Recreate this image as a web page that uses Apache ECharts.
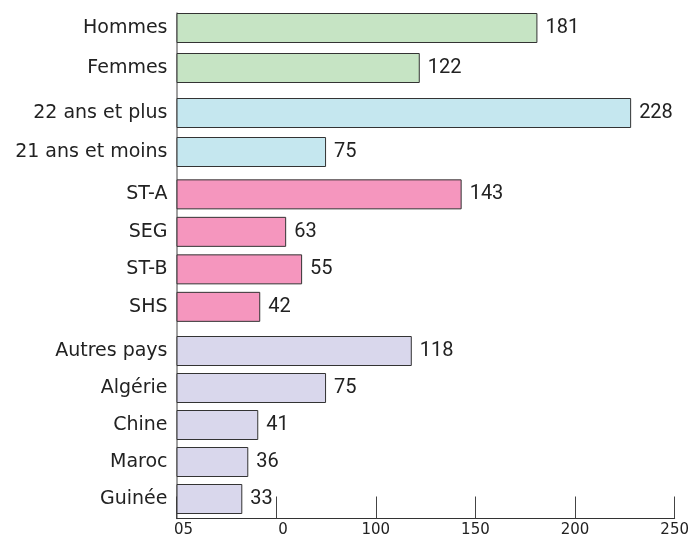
<!DOCTYPE html>
<html><head><meta charset="utf-8">
<script src="https://cdn.jsdelivr.net/npm/echarts@6/dist/echarts.min.js"></script>
<style>html,body{margin:0;padding:0;background:#fff}#c{width:692px;height:538px}</style>
</head><body><div id="c"></div>
<script>
const sexeCats = ["Hommes", "Femmes"];
const sexeVals = [181, 122];
const ageCats = ["22 ans et plus", "21 ans et moins"];
const ageVals = [228, 75];
const serieCats = ["ST-A", "SEG", "ST-B", "SHS"];
// bar lengths as drawn in the reference (SEG/ST-B bars are drawn swapped relative to their printed labels)
const serieVals = [143, 55, 63, 42];
const serieValLabels = ["143", "63", "55", "42"];
const paysCats = ["Autres pays", "Algérie", "Chine", "Maroc", "Guinée"];
const paysVals = [118, 75, 41, 36, 33];
const xTickLabels = ["05", "0", "100", "150", "200", "250"];

const CAT_FONT = "DejaVu Sans";
const NUM_FONT = "Roboto";
const groups = [
  {cats: sexeCats, vals: sexeVals, labels: null, color: "#c6e4c4", top: 8, height: 80},
  {cats: ageCats, vals: ageVals, labels: null, color: "#c5e7ef", top: 93.5, height: 78},
  {cats: serieCats, vals: serieVals, labels: serieValLabels, color: "#f596be", top: 175.6, height: 150},
  {cats: paysCats, vals: paysVals, labels: null, color: "#d9d7ec", top: 332.5, height: 185}
];
const L = 176.5, R = 17;
const grid = [{left: L, right: R, top: 13, bottom: 19.5}];
const xAxis = [{
  gridIndex: 0, type: 'value', min: 0, max: 250, interval: 50,
  splitLine: {show: false},
  axisLine: {show: true, lineStyle: {color: '#333', width: 1}},
  axisTick: {show: true, inside: true, length: 22, lineStyle: {color: '#444', width: 1}},
  axisLabel: {
    margin: 4, color: '#222', fontFamily: CAT_FONT, fontSize: 15,
    formatter: v => {
      const i = Math.round(v / 50);
      return i < 2 ? '{s|' + xTickLabels[i] + '}' : xTickLabels[i];
    },
    rich: {s: {padding: [0, 0, 0, 14], fontFamily: CAT_FONT, fontSize: 15, color: '#222'}}
  }
}];
const yAxis = [{
  gridIndex: 0, type: 'category', data: [''],
  axisLine: {show: true, lineStyle: {color: '#808080', width: 1.5}},
  axisTick: {show: false}, axisLabel: {show: false}
}];
const series = [];
groups.forEach((g, i) => {
  const gi = i + 1;
  grid.push({left: L, right: R, top: g.top, height: g.height});
  xAxis.push({gridIndex: gi, type: 'value', min: 0, max: 250, show: false});
  yAxis.push({
    gridIndex: gi, type: 'category', data: g.cats, inverse: true,
    axisLine: {show: false}, axisTick: {show: false},
    axisLabel: {margin: 9, color: '#222', fontFamily: CAT_FONT, fontSize: 19}
  });
  series.push({
    type: 'bar', xAxisIndex: gi, yAxisIndex: gi, data: g.vals, barWidth: 30,
    itemStyle: {color: g.color, borderColor: '#333', borderWidth: 1},
    label: {
      show: true, position: 'right', distance: 8, color: '#222',
      fontFamily: NUM_FONT, fontSize: 20,
      formatter: p => g.labels ? g.labels[p.dataIndex] : String(p.value)
    },
    silent: true, animation: false
  });
});
const chart = echarts.init(document.getElementById('c'), null, {renderer: 'canvas'});
chart.setOption({animation: false, grid, xAxis, yAxis, series});
</script></body></html>
